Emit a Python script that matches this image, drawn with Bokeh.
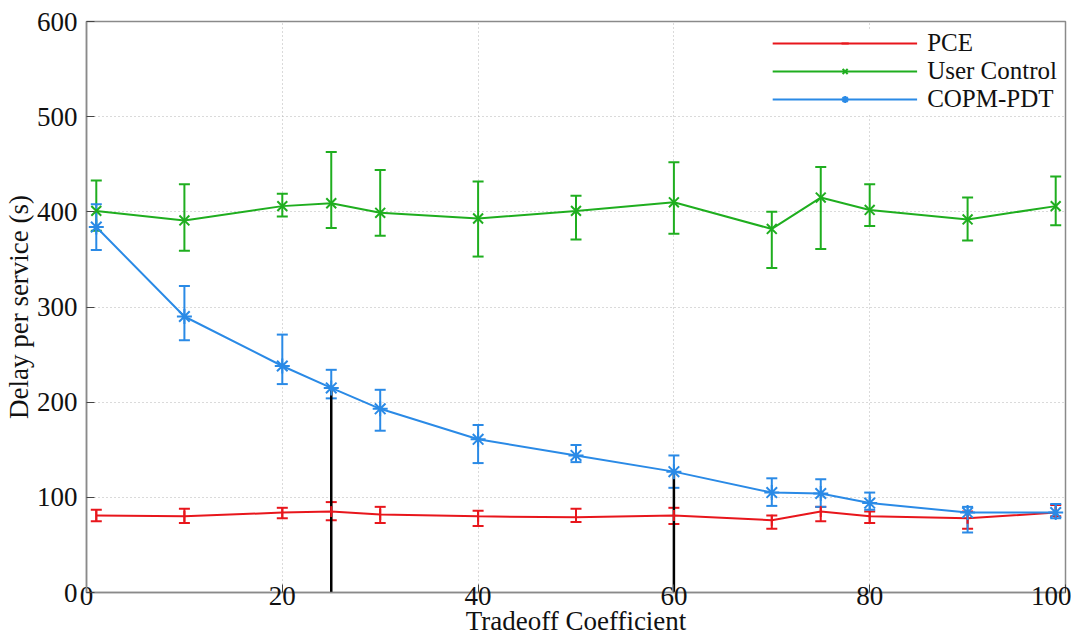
import math
from bokeh.plotting import figure
from bokeh.models import Range1d, Whisker, TeeHead, ColumnDataSource, Legend, LegendItem, FixedTicker
from bokeh.embed import file_html
from bokeh.resources import INLINE

# ---- data ----
x_vals = [1, 10, 20, 25, 30, 40, 50, 60, 70, 75, 80, 90, 99]

pce_mean = [81, 80, 84, 85, 82, 80, 79, 81, 76, 85, 80, 78, 84]
pce_low = [75, 73, 78, 76, 73, 70, 74, 72, 67, 75, 73, 67, 80]
pce_high = [87, 88, 89, 95, 90, 86, 88, 89, 81, 90, 85, 85, 92]

uc_mean = [401, 391, 406, 409, 399, 393, 401, 410, 382, 415, 402, 392, 406]
uc_low = [380, 359, 395, 383, 375, 353, 371, 377, 341, 361, 385, 370, 386]
uc_high = [433, 429, 419, 463, 444, 432, 417, 452, 400, 447, 429, 415, 437]

copm_mean = [384, 290, 238, 215, 193, 161, 144, 127, 105, 104, 94, 84, 84]
copm_low = [360, 265, 219, 204, 170, 136, 137, 110, 91, 90, 87, 63, 78]
copm_high = [408, 322, 271, 234, 213, 176, 155, 144, 120, 119, 105, 90, 93]

marked_x = [25, 60]  # vertical markers dropped from the COPM-PDT curve

series_names = ["PCE", "User Control", "COPM-PDT"]
x_ticks = [0, 20, 40, 60, 80, 100]
y_ticks = [0, 100, 200, 300, 400, 500, 600]

RED = "#e8161c"
GREEN = "#1fae1f"
BLUE = "#2a8ae6"
FONT = "Liberation Serif"

p = figure(width=1071, height=638, output_backend="svg", toolbar_location=None,
           x_range=Range1d(0, 100), y_range=Range1d(0, 600),
           min_border_left=86, min_border_top=21, min_border_right=6, min_border_bottom=44)

p.background_fill_color = "white"
p.outline_line_color = "#8a8a8a"
p.outline_line_width = 1.5

for ax in (p.xaxis[0], p.yaxis[0]):
    ax.axis_line_color = "#8a8a8a"
    ax.axis_line_width = 1.5
    ax.major_tick_in = 8
    ax.major_tick_out = 0
    ax.major_tick_line_color = "#444444"
    ax.minor_tick_line_color = None
    ax.major_label_text_font = FONT
    ax.major_label_text_font_size = "27px"
    ax.major_label_text_color = "#111111"
    ax.axis_label_text_font = FONT
    ax.axis_label_text_font_size = "27px"
    ax.axis_label_text_font_style = "normal"
    ax.axis_label_text_color = "#111111"

p.xaxis.ticker = FixedTicker(ticks=x_ticks)
p.yaxis.ticker = FixedTicker(ticks=y_ticks)
p.xaxis.axis_label = "Tradeoff Coefficient"
p.yaxis.axis_label = "Delay per service (s)"
p.xaxis.major_label_standoff = -6
p.xaxis.axis_label_standoff = -2
p.yaxis.major_label_standoff = 9
p.yaxis.axis_label_standoff = 0

for g in (p.xgrid[0], p.ygrid[0]):
    g.grid_line_color = "#b5b5b5"
    g.grid_line_dash = "1 3"
    g.grid_line_width = 1

# vertical black markers
mark_top = [copm_mean[x_vals.index(v)] for v in marked_x]
p.segment(x0=marked_x, y0=[-5] * len(marked_x), x1=marked_x, y1=mark_top,
          line_color="black", line_width=2.5)

def add_series(mean, low, high, color, marker, size):
    src = ColumnDataSource(dict(x=x_vals, y=mean, lo=low, hi=high))
    w = Whisker(base="x", upper="hi", lower="lo", source=src, line_color=color, line_width=2,
                upper_head=TeeHead(size=11, line_color=color, line_width=2),
                lower_head=TeeHead(size=11, line_color=color, line_width=2))
    p.add_layout(w)
    r_line = p.line("x", "y", source=src, line_color=color, line_width=2)
    r_mark = p.scatter("x", "y", source=src, marker=marker, size=size, line_color=color,
                       fill_color=None, line_width=2,
                       angle=(math.pi / 2 if marker == "dash" else 0))
    return [r_line, r_mark]

r_pce = add_series(pce_mean, pce_low, pce_high, RED, "dash", 11)
r_uc = add_series(uc_mean, uc_low, uc_high, GREEN, "x", 14)
r_copm = add_series(copm_mean, copm_low, copm_high, BLUE, "asterisk", 15)

legend = Legend(items=[LegendItem(label=series_names[0], renderers=r_pce),
                       LegendItem(label=series_names[1], renderers=r_uc),
                       LegendItem(label=series_names[2], renderers=r_copm)],
                location="top_right")
legend.label_text_font = FONT
legend.label_text_font_size = "25px"
legend.label_text_color = "#111111"
legend.glyph_width = 145
legend.glyph_height = 18
legend.label_height = 18
legend.spacing = 0
legend.padding = 2
legend.margin = 8
legend.label_standoff = 10
legend.border_line_color = None
legend.background_fill_color = "white"
legend.background_fill_alpha = 1.0
p.add_layout(legend)

open("out.html", "w").write(file_html(p, INLINE))
